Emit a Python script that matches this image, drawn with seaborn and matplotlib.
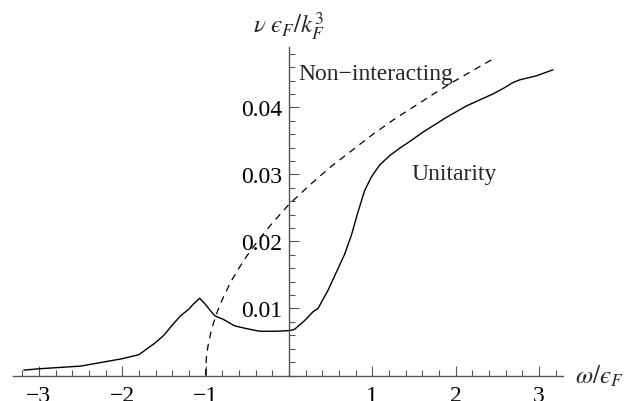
import matplotlib
matplotlib.use("Agg")
import matplotlib.pyplot as plt
from matplotlib.ticker import MultipleLocator, FixedLocator, FixedFormatter
import seaborn as sns
import numpy as np

# ---- data ----
omega_unit = [-3.18, -3.0, -2.5, -2.0, -1.8, -1.6, -1.5, -1.4, -1.3, -1.2, -1.15,
              -1.07, -1.0, -0.95, -0.888, -0.79, -0.65, -0.51, -0.35, -0.15, 0.01,
              0.07, 0.19, 0.29, 0.35, 0.47, 0.57, 0.67, 0.75, 0.83, 0.91, 0.99,
              1.09, 1.21, 1.33, 1.45, 1.61, 1.89, 2.13, 2.45, 2.57, 2.69, 2.77,
              2.97, 3.17]
nu_unit = [0.0008, 0.0010, 0.0014, 0.0025, 0.0031, 0.0049, 0.0060, 0.0075, 0.0089,
           0.0099, 0.0106, 0.01152, 0.0106, 0.0098, 0.0089, 0.0084, 0.0074, 0.0070,
           0.0066, 0.0066, 0.0067, 0.0069, 0.0082, 0.0095, 0.0100, 0.0127, 0.0154,
           0.0181, 0.0209, 0.0244, 0.0276, 0.0296, 0.0314, 0.0328, 0.0339, 0.0349,
           0.0363, 0.0385, 0.0402, 0.0420, 0.0428, 0.0437, 0.0441, 0.0447, 0.0456]

omega_free = [-1.0, -0.99, -0.97, -0.94, -0.9, -0.85, -0.8, -0.7, -0.6, -0.5, -0.4,
              -0.3, -0.2, -0.1, 0.0, 0.25, 0.5, 0.75, 1.0, 1.25, 1.5, 1.75, 2.0,
              2.25, 2.45]
nu_free = [0.0, 0.0026, 0.0044, 0.0062, 0.0080, 0.0098, 0.0113, 0.0139, 0.0160,
           0.0179, 0.0196, 0.0212, 0.0227, 0.0241, 0.0255, 0.0284, 0.0311, 0.0335,
           0.0359, 0.0381, 0.0401, 0.0421, 0.0440, 0.0458, 0.0472]

x_major = [-3, -2, -1, 1, 2, 3]
x_major_labels = ["\u22123", "\u22122", "\u22121", "1", "2", "3"]
y_major = [0.01, 0.02, 0.03, 0.04]
y_major_labels = ["0.01", "0.02", "0.03", "0.04"]

# ---- style ----
sns.set_style("white")
plt.rcParams["font.family"] = ["Liberation Serif", "DejaVu Serif"]
plt.rcParams["mathtext.fontset"] = "stix"

fig = plt.figure(figsize=(6.35, 4.02), dpi=100)
ax = fig.add_axes([13 / 635, (402 - 376.5) / 402, 550 / 635, (376.5 - 48) / 402])
ax.patch.set_alpha(0)

sns.lineplot(x=omega_unit, y=nu_unit, ax=ax, color="black", linewidth=1.0)
sns.lineplot(x=omega_free, y=nu_free, ax=ax, color="black", linewidth=0.9)
ax.lines[-1].set_dashes((5.5, 4.5))

ax.set_xlim(-3.31, 3.29)
ax.set_ylim(0, 0.049)

axcol = "#555555"
for s in ["top", "right"]:
    ax.spines[s].set_visible(False)
ax.spines["left"].set_position(("data", 0))
ax.spines["bottom"].set_position(("data", 0))
for s in ["left", "bottom"]:
    ax.spines[s].set_color(axcol)
    ax.spines[s].set_linewidth(1.0)

ax.xaxis.set_major_locator(FixedLocator(x_major))
ax.xaxis.set_major_formatter(FixedFormatter(x_major_labels))
ax.xaxis.set_minor_locator(MultipleLocator(0.2))
ax.yaxis.set_major_locator(FixedLocator(y_major))
ax.yaxis.set_major_formatter(FixedFormatter(y_major_labels))
ax.yaxis.set_minor_locator(MultipleLocator(0.002))

ax.tick_params(axis="both", which="major", direction="in", length=7, width=0.8,
               color=axcol, labelsize=17, labelcolor="black")
ax.tick_params(axis="both", which="minor", direction="in", length=4, width=0.8,
               color=axcol)
ax.tick_params(axis="x", which="both", bottom=True, top=False, pad=7)
ax.tick_params(axis="y", which="both", left=True, right=False, pad=5)

ax.text(1.045, 0.0451, "Non\u2212interacting", ha="center", va="center", fontsize=17)
ax.text(1.99, 0.0301, "Unitarity", ha="center", va="center", fontsize=17)
ax.text(3.43, 0.0, "$\u03c9/\u03f5_F$", ha="left", va="center", fontsize=18,
        clip_on=False)
ax.text(0.0, 0.0522, "$\u03bd\\ \u03f5_F/k_F^3$", ha="center", va="center",
        fontsize=18, clip_on=False)

fig.savefig("out.png", dpi=100)
